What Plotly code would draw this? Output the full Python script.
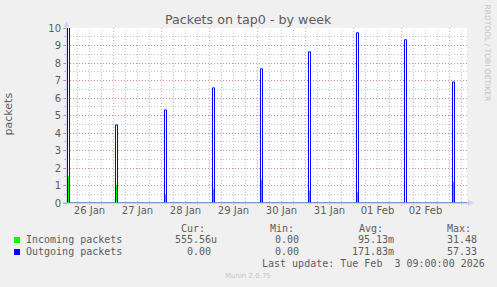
import plotly.graph_objects as go
import pandas as pd

# ---------------- data ----------------
t_start = "2026-01-26 01:00"
t_end = "2026-02-03 09:00"

day_labels = ["26 Jan", "27 Jan", "28 Jan", "29 Jan", "30 Jan", "31 Jan", "01 Feb", "02 Feb"]
label_times = ["2026-01-26 12:00", "2026-01-27 12:00", "2026-01-28 12:00", "2026-01-29 12:00",
               "2026-01-30 12:00", "2026-01-31 12:00", "2026-02-01 12:00", "2026-02-02 12:00"]

y_ticks = [0, 1, 2, 3, 4, 5, 6, 7, 8, 9, 10]

# Outgoing packets: start of each burst, its length (minutes) and rate
out_start = ["2026-01-26 01:00", "2026-01-27 01:00", "2026-01-28 01:30", "2026-01-29 01:30",
             "2026-01-30 01:30", "2026-01-31 01:30", "2026-02-01 01:30", "2026-02-02 01:30",
             "2026-02-03 01:30"]
out_minutes = [60, 60, 60, 60, 60, 60, 60, 60, 60]
out_values = [57.33, 4.46, 5.32, 6.58, 7.67, 8.64, 9.73, 9.33, 6.92]

# Incoming packets: time of each burst and rate
in_times = ["2026-01-26 01:30", "2026-01-27 01:30", "2026-01-28 02:00", "2026-01-29 02:00",
            "2026-01-30 02:00", "2026-01-31 02:00", "2026-02-01 02:00", "2026-02-02 02:00",
            "2026-02-03 02:00"]
in_values = [1.5, 1.0, 0.5, 0.8, 1.3, 0.7, 0.6, 0.0, 1.2]

series_names = ["Incoming packets", "Outgoing packets"]
series_colors = ["#00FF00", "#0000FF"]
cur_vals = ["555.56u", "0.00"]
min_vals = ["0.00", "0.00"]
avg_vals = ["95.13m", "171.83m"]
max_vals = ["31.48", "57.33"]
col_headers = ["Cur:", "Min:", "Avg:", "Max:"]
last_update = "Last update: Tue Feb\u00a0 3 09:00:00 2026"
title_text = "Packets on tap0 - by week"
y_title = "packets"
side_text = "RRDTOOL / TOBI OETIKER"
footer_text = "Munin 2.0.75"

# ---------------- layout constants ----------------
W, H = 497, 287
ML, MR, MT, MB = 67, 30, 28, 84
PW, PH = W - ML - MR, H - MT - MB
FONT = "DejaVu Sans"
MONO = "DejaVu Sans Mono"
TXT = "#5c5c5c"
RED_GRID = "rgba(235,80,80,0.55)"
GRAY_GRID = "rgba(150,150,150,0.55)"
AXIS = "#CFD6F8"
DASH = "1px,2px"


def px(x):
    return (x - ML) / PW


def py(y):
    return (H - MB - y) / PH


# ---------------- traces ----------------
ts = pd.Timestamp(t_start)
te = pd.Timestamp(t_end)
half_px = pd.Timedelta(minutes=15)   # align 30-min samples to pixel centres
x_range = [ts - half_px, te - half_px]

bx, by = [x_range[0]], [0]
for s, m, v in zip(out_start, out_minutes, out_values):
    a = pd.Timestamp(s)
    b = a + pd.Timedelta(minutes=m)
    bx += [a, a, b, b]
    by += [0, v, v, 0]
bx.append(te)
by.append(0)

gx, gy = [x_range[0]], [0]
for t, v in zip(in_times, in_values):
    a = pd.Timestamp(t)
    gx += [a, a, a]
    gy += [0, v, 0]
gx.append(te)
gy.append(0)

fig = go.Figure()
fig.add_trace(go.Scatter(x=gx, y=gy, mode="lines", line=dict(color=series_colors[0], width=1),
                         name=series_names[0], hoverinfo="skip"))
fig.add_trace(go.Scatter(x=bx, y=by, mode="lines", line=dict(color=series_colors[1], width=1),
                         name=series_names[1], hoverinfo="skip"))

# ---------------- vertical grid ----------------
shapes = []
midnights = pd.date_range(ts.normalize() + pd.Timedelta(days=1), te, freq="D")
six_hours = [t for t in pd.date_range(ts.normalize() + pd.Timedelta(hours=6), te, freq="6h")
             if t.hour != 0]
for t in six_hours:
    shapes.append(dict(type="line", xref="x", yref="paper", x0=t, x1=t, y0=-2 / PH, y1=1,
                       line=dict(color=GRAY_GRID, width=1, dash=DASH), layer="below"))
for t in midnights:
    shapes.append(dict(type="line", xref="x", yref="paper", x0=t, x1=t, y0=-3 / PH, y1=1,
                       line=dict(color=RED_GRID, width=1, dash=DASH), layer="below"))

# axis arrows and axis lines
shapes.append(dict(type="path", xref="paper", yref="paper",
                   path=f"M {px(468)} {py(200)} L {px(474)} {py(203)} L {px(468)} {py(206)} Z",
                   fillcolor=AXIS, line=dict(width=0)))
shapes.append(dict(type="path", xref="paper", yref="paper",
                   path=f"M {px(63.5)} {py(27)} L {px(66.5)} {py(21)} L {px(69.5)} {py(27)} Z",
                   fillcolor=AXIS, line=dict(width=0)))
shapes.append(dict(type="line", xref="paper", yref="paper", x0=px(66.5), x1=px(66.5),
                   y0=py(206), y1=py(26), line=dict(color=AXIS, width=1)))
shapes.append(dict(type="line", xref="paper", yref="paper", x0=px(63), x1=px(469),
                   y0=py(203), y1=py(203), line=dict(color="#A8B2F4", width=1)))

# legend squares
for i, c in enumerate(series_colors):
    y0 = 237 + 12 * i
    shapes.append(dict(type="rect", xref="paper", yref="paper", x0=px(14), x1=px(20),
                       y0=py(y0 + 6), y1=py(y0), fillcolor=c, line=dict(width=0)))

# ---------------- annotations ----------------
ann = []


def text(s, x, y, size, font=FONT, color=TXT, xanchor="left", angle=0):
    ann.append(dict(text=s, x=px(x), y=py(y), xref="paper", yref="paper", showarrow=False,
                    xanchor=xanchor, yanchor="middle", textangle=angle, borderpad=0,
                    font=dict(family=font, size=size, color=color)))


text(title_text, 248.7, 19.6, 12.7, xanchor="center")
text(y_title, 8.9, 113.5, 11, xanchor="center", angle=-90)
text(side_text, 487.5, 53, 7.5, color="#C4C4C4", xanchor="center", angle=90)
text(footer_text, 247.7, 275.6, 7, color="#C4C4C4", xanchor="center")

CH = 6.02
header_x = [180.3, 268.6, 357.6, 446.0]
for h, x in zip(col_headers, header_x):
    text(h, x, 228.2, 10, font=MONO)

col_end = [215.9, 304.5, 393.5, 481.9]
row_y = [239.8, 251.9]
for i in range(2):
    text(series_names[i], 25.2, row_y[i], 10, font=MONO)
    for j, vals in enumerate([cur_vals, min_vals, avg_vals, max_vals]):
        s = vals[i]
        cells = len(s) + (1 if s[-1].isdigit() else 0)
        text(s, col_end[j] - cells * CH, row_y[i], 10, font=MONO)

text(last_update, 260.5, 263.5, 10, font=MONO)

fig.update_layout(
    width=W, height=H, margin=dict(l=ML, r=MR, t=MT, b=MB, pad=0),
    paper_bgcolor="#F0F0F0", plot_bgcolor="#FFFFFF",
    showlegend=False, shapes=shapes, annotations=ann,
    xaxis=dict(type="date", range=x_range, showgrid=False, zeroline=False, showline=False,
               tickmode="array", tickvals=label_times, ticktext=day_labels, ticks="",
               tickfont=dict(family=FONT, size=10, color=TXT), fixedrange=True),
    yaxis=dict(range=[0, 10], tickmode="array", tickvals=y_ticks, showgrid=True,
               gridcolor=RED_GRID, griddash=DASH, gridwidth=1, zeroline=False, showline=False,
               ticks="outside", ticklen=3, tickcolor=RED_GRID,
               tickfont=dict(family=FONT, size=10, color=TXT),
               minor=dict(dtick=0.5, tick0=0, showgrid=True, gridcolor=GRAY_GRID, griddash=DASH,
                          ticks="outside", ticklen=2, tickcolor=GRAY_GRID),
               fixedrange=True),
)

fig.write_html("out.html")
